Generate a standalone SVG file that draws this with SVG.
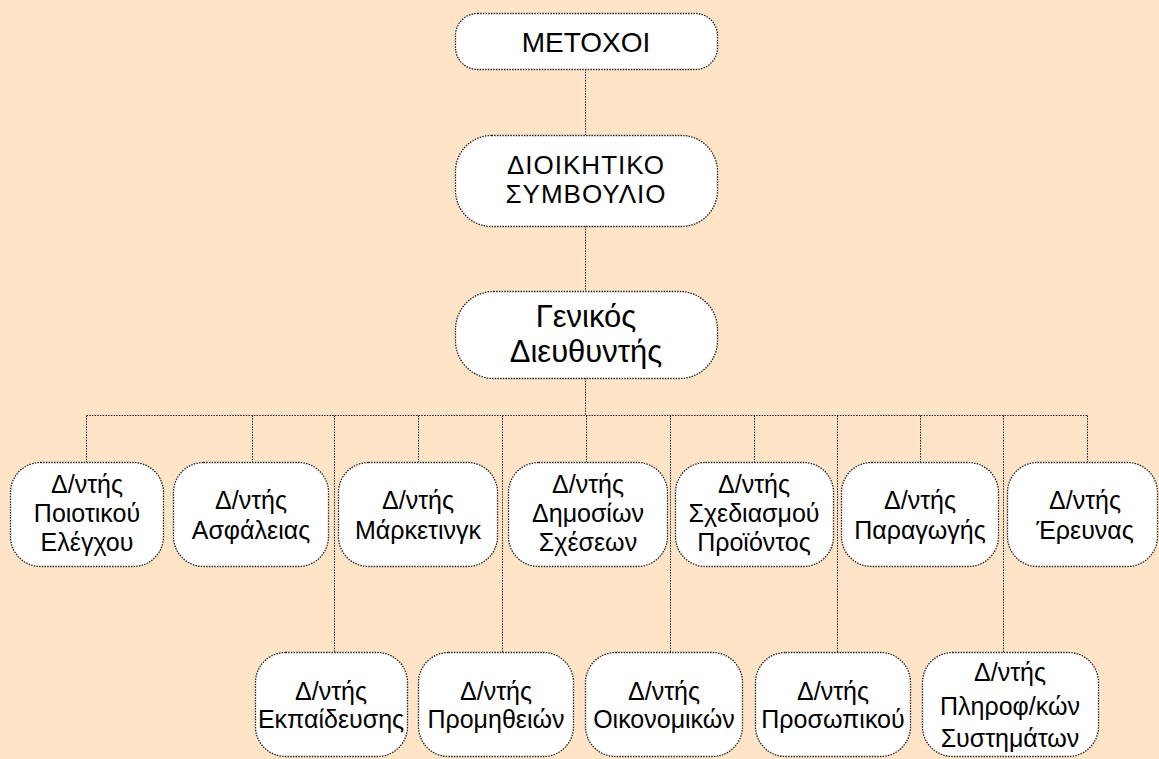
<svg xmlns="http://www.w3.org/2000/svg" width="1159" height="759" viewBox="0 0 1159 759">
<style>
.bg{fill:#FFE4C8}
.box{fill:#FFFFFF;stroke:#222;stroke-width:1.3;stroke-dasharray:1.5 1.2}
.con{fill:none;stroke:#222;stroke-width:1;stroke-dasharray:1.5 1.2}
text{font-family:"Liberation Sans",Arial,sans-serif;fill:#000;text-anchor:middle}
.t25{font-size:25px}
</style>
<rect class="bg" x="0" y="0" width="1159" height="759"/>
<g id="connectors">
<path class="con" d="M585.5 69V135M585.5 226V291M585.5 378V415.5M86.5 415.5H1087.5"/>
<path class="con" d="M86.5 415.5V462M252.5 415.5V462M418.5 415.5V462M586.5 415.5V462M754.5 415.5V462M920.5 415.5V462M1087.5 415.5V462"/>
<path class="con" d="M334.5 415.5V652M502.5 415.5V652M670.5 415.5V652M837.5 415.5V652M1003.5 415.5V652"/>
</g>
<g id="n-metochoi">
<rect class="box" x="455.5" y="13.5" width="262" height="56" rx="22"/>
<text x="586" y="52" style="font-size:28px">ΜΕΤΟΧΟΙ</text>
</g>
<g id="n-ds">
<rect class="box" x="455.5" y="135.5" width="262" height="91" rx="36"/>
<text x="586" y="174" style="font-size:26px;letter-spacing:1px">ΔΙΟΙΚΗΤΙΚΟ</text>
<text x="586" y="203" style="font-size:26px;letter-spacing:1px">ΣΥΜΒΟΥΛΙΟ</text>
</g>
<g id="n-gd">
<rect class="box" x="455.5" y="291.5" width="262" height="87" rx="38"/>
<text x="586" y="327" style="font-size:31px">Γενικός</text>
<text x="586" y="362" style="font-size:31px">Διευθυντής</text>
</g>
<g id="n-poiotikou">
<rect class="box" x="10.5" y="462.5" width="153" height="104" rx="30"/>
<text class="t25" x="87" y="493">Δ/ντής</text>
<text class="t25" x="87" y="522">Ποιοτικού</text>
<text class="t25" x="87" y="551">Ελέγχου</text>
</g>
<g id="n-asfaleias">
<rect class="box" x="173.5" y="462.5" width="155" height="104" rx="30"/>
<text class="t25" x="251" y="509">Δ/ντής</text>
<text class="t25" x="251" y="539">Ασφάλειας</text>
</g>
<g id="n-marketing">
<rect class="box" x="338.5" y="462.5" width="159" height="104" rx="30"/>
<text class="t25" x="418" y="509">Δ/ντής</text>
<text class="t25" x="418" y="539">Μάρκετινγκ</text>
</g>
<g id="n-dimosion">
<rect class="box" x="508.5" y="462.5" width="159" height="104" rx="30"/>
<text class="t25" x="588" y="493">Δ/ντής</text>
<text class="t25" x="588" y="522">Δημοσίων</text>
<text class="t25" x="588" y="551">Σχέσεων</text>
</g>
<g id="n-sxediasmou">
<rect class="box" x="675.5" y="462.5" width="158" height="104" rx="30"/>
<text class="t25" x="754" y="493">Δ/ντής</text>
<text class="t25" x="754" y="522">Σχεδιασμού</text>
<text class="t25" x="754" y="551">Προϊόντος</text>
</g>
<g id="n-paragogis">
<rect class="box" x="841.5" y="462.5" width="157" height="104" rx="30"/>
<text class="t25" x="920" y="509">Δ/ντής</text>
<text class="t25" x="920" y="539">Παραγωγής</text>
</g>
<g id="n-ereynas">
<rect class="box" x="1007.5" y="462.5" width="150" height="104" rx="30"/>
<text class="t25" x="1085" y="509">Δ/ντής</text>
<text class="t25" x="1085" y="539">Έρευνας</text>
</g>
<g id="n-ekpaideusis">
<rect class="box" x="255.5" y="652.5" width="152" height="104" rx="30"/>
<text class="t25" x="331" y="700">Δ/ντής</text>
<text class="t25" x="331" y="728">Εκπαίδευσης</text>
</g>
<g id="n-promitheion">
<rect class="box" x="418.5" y="652.5" width="155" height="104" rx="30"/>
<text class="t25" x="496" y="700">Δ/ντής</text>
<text class="t25" x="496" y="728">Προμηθειών</text>
</g>
<g id="n-oikonomikon">
<rect class="box" x="585.5" y="652.5" width="157" height="104" rx="30"/>
<text class="t25" x="664" y="700">Δ/ντής</text>
<text class="t25" x="664" y="728">Οικονομικών</text>
</g>
<g id="n-prosopikou">
<rect class="box" x="755.5" y="652.5" width="155" height="104" rx="30"/>
<text class="t25" x="833" y="700">Δ/ντής</text>
<text class="t25" x="833" y="728">Προσωπικού</text>
</g>
<g id="n-pliroforikon">
<rect class="box" x="922.5" y="652.5" width="176" height="104" rx="30"/>
<text class="t25" x="1010" y="681">Δ/ντής</text>
<text class="t25" x="1010" y="715">Πληροφ/κών</text>
<text class="t25" x="1010" y="747">Συστημάτων</text>
</g>
</svg>
